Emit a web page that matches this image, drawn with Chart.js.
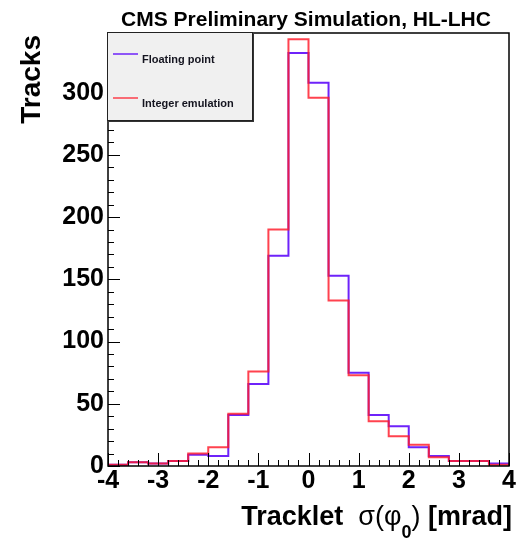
<!DOCTYPE html>
<html>
<head>
<meta charset="utf-8">
<script src="https://cdn.jsdelivr.net/npm/chart.js@4.4.1/dist/chart.umd.min.js"></script>
<style>
  html, body { margin: 0; padding: 0; background: #fff; }
</style>
</head>
<body>
<canvas id="histo" width="518" height="539"></canvas>
<script>
// bin edges of sigma(phi0) in mrad, 20 bins of 0.4
const binEdges = [-4, -3.6, -3.2, -2.8, -2.4, -2.0, -1.6, -1.2, -0.8, -0.4, 0,
                  0.4, 0.8, 1.2, 1.6, 2.0, 2.4, 2.8, 3.2, 3.6, 4];
const floatCounts = [1, 3, 2, 4, 9, 8, 41, 66, 169, 332, 308, 153, 75, 41, 32, 15, 8, 4, 4, 2];
const intCounts   = [1, 3, 2, 4, 10, 15, 42, 76, 190, 343, 296, 133, 73, 36, 24, 17, 7, 4, 4, 1];
const seriesNames = ['Floating point', 'Integer emulation'];
const xTickValues = [-4, -3, -2, -1, 0, 1, 2, 3, 4];
const yTickValues = [0, 50, 100, 150, 200, 250, 300];

const FONT = '"Liberation Sans", Arial, Helvetica, sans-serif';
const BLUE = 'rgb(110, 35, 250)';
const RED = 'rgba(255, 25, 40, 0.82)';

function histPoints(counts) {
    const last = binEdges.length - 1;
    const pts = [{ x: binEdges[0], y: 0 }];
    counts.forEach((c, i) => pts.push({ x: binEdges[i], y: c }));
    pts.push({ x: binEdges[last], y: counts[counts.length - 1] });
    pts.push({ x: binEdges[last], y: 0 });
    return pts;
}

// frame, inward ticks (ROOT style), titles and legend
const decorPlugin = {
    id: 'decor',
    afterDraw(chart) {
        const ctx = chart.ctx;
        const area = chart.chartArea;
        const xs = chart.scales.x;
        const ys = chart.scales.y;
        ctx.save();
        ctx.strokeStyle = '#000';
        ctx.lineWidth = 1;

        // x ticks: majors from the tick list, 5 subdivisions each
        ctx.beginPath();
        for (let i = 0; i < xTickValues.length; i++) {
            const v = xTickValues[i];
            const px = Math.round(xs.getPixelForValue(v)) + 0.5;
            ctx.moveTo(px, area.bottom);
            ctx.lineTo(px, area.bottom - 13);
            if (i < xTickValues.length - 1) {
                const step = (xTickValues[i + 1] - v) / 5;
                for (let k = 1; k < 5; k++) {
                    const mx = Math.round(xs.getPixelForValue(v + k * step)) + 0.5;
                    ctx.moveTo(mx, area.bottom);
                    ctx.lineTo(mx, area.bottom - 6);
                }
            }
        }
        // y ticks
        for (let i = 0; i < yTickValues.length; i++) {
            const v = yTickValues[i];
            const py = Math.round(ys.getPixelForValue(v)) + 0.5;
            ctx.moveTo(area.left, py);
            ctx.lineTo(area.left + 12, py);
            const step = 10;
            for (let m = v + step; m < v + 50 && m < ys.max; m += step) {
                const my = Math.round(ys.getPixelForValue(m)) + 0.5;
                ctx.moveTo(area.left, my);
                ctx.lineTo(area.left + 6, my);
            }
        }
        ctx.stroke();

        // frame
        ctx.lineWidth = 1.5;
        ctx.strokeRect(area.left, area.top, area.right - area.left, area.bottom - area.top);

        // legend box
        const lx = 107, ly = 32, lw = 145, lh = 88;
        ctx.fillStyle = '#333';
        ctx.fillRect(lx + 2, ly + 2, lw, lh);
        ctx.fillStyle = '#f0f0f0';
        ctx.fillRect(lx, ly, lw, lh);
        ctx.lineWidth = 1;
        ctx.strokeStyle = '#222';
        ctx.strokeRect(lx + 0.5, ly + 0.5, lw, lh);
        const legendRows = [
            { y: 54, color: BLUE, text: chart.data.datasets[0].label },
            { y: 98, color: RED, text: chart.data.datasets[1].label }
        ];
        ctx.font = 'bold 11px ' + FONT;
        ctx.textBaseline = 'alphabetic';
        ctx.textAlign = 'left';
        legendRows.forEach(r => {
            ctx.strokeStyle = r.color;
            ctx.lineWidth = 1.5;
            ctx.beginPath();
            ctx.moveTo(113, r.y);
            ctx.lineTo(138, r.y);
            ctx.stroke();
            ctx.fillStyle = '#151520';
            ctx.fillText(r.text, 142, r.y + 9);
        });

        // top title
        ctx.fillStyle = '#000';
        ctx.font = 'bold 21px ' + FONT;
        ctx.textAlign = 'center';
        ctx.fillText('CMS Preliminary Simulation, HL-LHC', 306, 26);

        // y title, aligned to the top end of the axis
        ctx.save();
        ctx.translate(40, 35);
        ctx.rotate(-Math.PI / 2);
        ctx.textAlign = 'right';
        ctx.font = 'bold 28px ' + FONT;
        ctx.fillText('Tracks', 0, 0);
        ctx.restore();

        // x title with subscript
        ctx.textAlign = 'left';
        const base = 525;
        const pieces = [
            { t: 'Tracklet  ', f: 'bold 27px ' + FONT, dy: 0 },
            { t: 'σ(φ', f: '27px ' + FONT, dy: 0 },
            { t: '0', f: 'bold 18px ' + FONT, dy: 13 },
            { t: ') ', f: '27px ' + FONT, dy: 0 },
            { t: '[mrad]', f: 'bold 27px ' + FONT, dy: 0 }
        ];
        let total = 0;
        pieces.forEach(p => { ctx.font = p.f; total += ctx.measureText(p.t).width; });
        let cx = 512 - total;
        pieces.forEach(p => {
            ctx.font = p.f;
            ctx.fillText(p.t, cx, base + p.dy);
            cx += ctx.measureText(p.t).width;
        });
        ctx.restore();
    }
};

const ctx = document.getElementById('histo').getContext('2d');
new Chart(ctx, {
    type: 'line',
    data: {
        datasets: [{
            label: seriesNames[0],
            data: histPoints(floatCounts),
            borderColor: BLUE,
            borderWidth: 2,
            stepped: true,
            pointRadius: 0,
            fill: false,
            order: 2
        }, {
            label: seriesNames[1],
            data: histPoints(intCounts),
            borderColor: RED,
            borderWidth: 2,
            stepped: true,
            pointRadius: 0,
            fill: false,
            order: 1
        }]
    },
    options: {
        responsive: false,
        animation: false,
        devicePixelRatio: 1,
        layout: { padding: { top: 33, right: 9, left: 0, bottom: 0 } },
        plugins: {
            legend: { display: false },
            tooltip: { enabled: false }
        },
        scales: {
            x: {
                type: 'linear',
                min: -4,
                max: 4,
                grid: { display: false, drawTicks: false },
                border: { display: false },
                afterBuildTicks: (scale) => {
                    scale.ticks = xTickValues.map(v => ({ value: v }));
                },
                afterFit: (scale) => { scale.height = 73; },
                ticks: {
                    autoSkip: false,
                    maxRotation: 0,
                    padding: 0,
                    color: '#000',
                    font: { family: FONT, size: 25, weight: 'bold' }
                }
            },
            y: {
                min: 0,
                max: 348,
                grid: { display: false, drawTicks: false },
                border: { display: false },
                afterBuildTicks: (scale) => {
                    scale.ticks = yTickValues.map(v => ({ value: v }));
                },
                afterFit: (scale) => { scale.width = 108; },
                ticks: {
                    padding: 4,
                    color: '#000',
                    font: { family: FONT, size: 25, weight: 'bold' }
                }
            }
        }
    },
    plugins: [decorPlugin]
});
</script>
</body>
</html>
